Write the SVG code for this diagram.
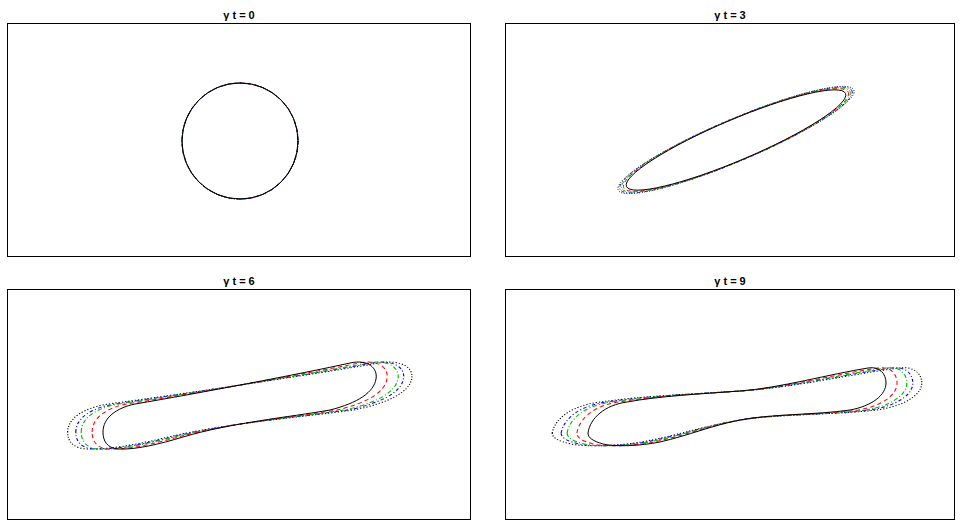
<svg xmlns="http://www.w3.org/2000/svg" width="960" height="523" viewBox="0 0 960 523">
<defs>
<style>
.box{fill:none;stroke:#000;stroke-width:1}
.ttl{font-family:"Liberation Sans",Arial,sans-serif;font-weight:bold;font-size:11px;text-anchor:middle;fill:#000}
.c{fill:none;stroke-width:1;vector-effect:non-scaling-stroke}
.k{stroke:#000}
.r{stroke:#f00;stroke-dasharray:4 3}
.g{stroke:#00b800;stroke-dasharray:4 2 1 2}
.b{stroke:#00f;stroke-dasharray:3 2 1 2}
.d{stroke:#000;stroke-dasharray:1 1.6}
</style>
<path id="s6" d="M103,432 C103,418 116,408 135,404 C200,393 300,374 350,363 C368,359 378,368 376,379 C374,392 358,403 330,410 C290,417 230,423 183,437 C160,444 135,450 118,449 C107,448 103,441 103,432 Z"/>
<path id="s9" d="M588,433 C590,418 605,405 627,402 C660,396 700,394 740,391 C780,388 830,374 868,368 C880,366 886,374 886,383 C886,395 872,406 850,410 C815,415 770,414 740,420 C710,426 690,435 660,442 C640,446 615,447 603,444 C593,441 588,438 588,433 Z"/>
</defs>
<rect width="960" height="523" fill="#fff"/>

<g id="panel-t0">
<rect class="box" x="7.5" y="23.5" width="463" height="233"/>
<text class="ttl" x="239" y="19">γ t = 0</text>
<g id="drops-t0">
<circle class="c r" cx="240" cy="141" r="58"/>
<circle class="c g" cx="240" cy="141" r="58"/>
<circle class="c b" cx="240" cy="141" r="58"/>
<circle class="c d" cx="240" cy="141" r="58"/>
<circle class="c k" cx="240" cy="141" r="58"/>
</g>
</g>

<g id="panel-t3">
<rect class="box" x="505.5" y="23.5" width="449" height="233"/>
<text class="ttl" x="730" y="19">γ t = 3</text>
<g id="drops-t3" transform="translate(736,140) rotate(-23)">
<ellipse class="c d" rx="128" ry="21"/>
<ellipse class="c b" rx="126" ry="21"/>
<ellipse class="c g" rx="124" ry="20.8"/>
<ellipse class="c r" rx="122" ry="20.6"/>
<ellipse class="c k" rx="119" ry="20.4"/>
</g>
</g>

<g id="panel-t6">
<rect class="box" x="7.5" y="289.5" width="463" height="230"/>
<text class="ttl" x="239" y="285">γ t = 6</text>
<g id="drops-t6">
<use href="#s6" class="c d" transform="matrix(1.26,0,0,1,-62.14,0)"/>
<use href="#s6" class="c b" transform="matrix(1.2,0,0,1,-47.8,0)"/>
<use href="#s6" class="c g" transform="matrix(1.16,0,0,1,-38.24,0)"/>
<use href="#s6" class="c r" transform="matrix(1.08,0,0,1,-19.12,0)"/>
<use href="#s6" class="c k"/>
</g>
</g>

<g id="panel-t9">
<rect class="box" x="505.5" y="289.5" width="449" height="230"/>
<text class="ttl" x="730" y="285">γ t = 9</text>
<g id="drops-t9">
<use href="#s9" class="c d" transform="matrix(1.24,0,0,1,-176.88,0)"/>
<use href="#s9" class="c b" transform="matrix(1.18,0,0,1,-132.66,0)"/>
<use href="#s9" class="c g" transform="matrix(1.14,0,0,1,-103.18,0)"/>
<use href="#s9" class="c r" transform="matrix(1.074,0,0,1,-54.54,0)"/>
<use href="#s9" class="c k"/>
</g>
</g>
</svg>
